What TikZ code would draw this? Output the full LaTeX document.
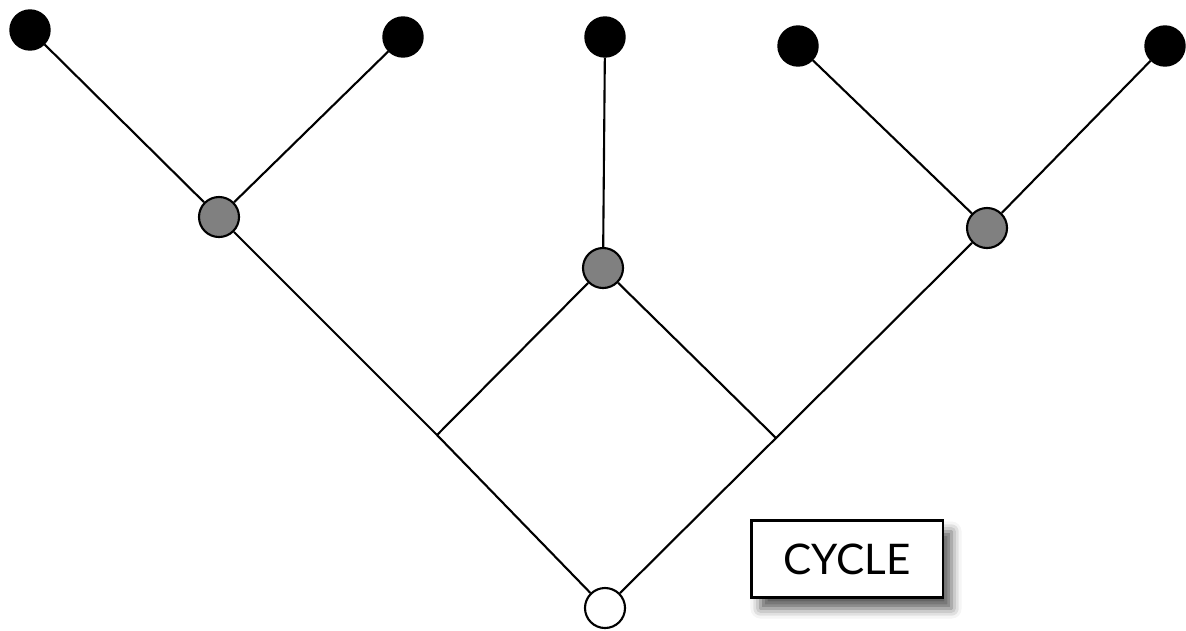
\documentclass[tikz,border=0pt]{standalone}
\usepackage{fontspec}
\setsansfont{Lato}
\usetikzlibrary{shadows.blur}

\begin{document}
\begin{tikzpicture}[
    x=0.01cm, y=-0.01cm,
    every node/.style={font=\sffamily},
    leaf/.style={
        circle,
        draw,
        fill=black,
        minimum size=0.4cm,
        inner sep=0pt
    },
    inner/.style={
        circle,
        draw,
        line width=0.6pt,
        fill=gray,
        minimum size=0.4cm,
        inner sep=0pt
    },
    rootnode/.style={
        circle,
        draw,
        line width=0.6pt,
        fill=white,
        minimum size=0.4cm,
        inner sep=0pt
    },
    label/.style={
        draw,
        fill=white,
        line width=0.6pt,
        minimum width=1.91cm,
        minimum height=0.77cm,
        font=\sffamily\fontsize{12}{14}\selectfont,
        blur shadow={shadow xshift=0.09cm, shadow yshift=-0.11cm,
                     shadow blur radius=0.1cm, shadow opacity=65}
    },
    edge/.style={line width=0.6pt}
]
\useasboundingbox (0,0) rectangle (1186,630);

% leaves
\node[leaf] (l1) at (30,30) {};
\node[leaf] (l2) at (403,37) {};
\node[leaf] (l3) at (605,37) {};
\node[leaf] (l4) at (798,46) {};
\node[leaf] (l5) at (1165,46) {};

% internal nodes
\node[inner] (a) at (219,217) {};
\node[inner] (b) at (603,268) {};
\node[inner] (c) at (987,228) {};

\node[rootnode] (r) at (605,608) {};

\coordinate (jl) at (437,435);
\coordinate (jr) at (776,438);

\draw[edge] (l1) -- (a);
\draw[edge] (l2) -- (a);
\draw[edge] (l3) -- (b);
\draw[edge] (l4) -- (c);
\draw[edge] (l5) -- (c);

\draw[edge] (a) -- (jl) -- (r);
\draw[edge] (c) -- (jr) -- (r);
\draw[edge] (b) -- (jl);
\draw[edge] (b) -- (jr);

\node[label] (cycle) at (847,559) {CYCLE};

\end{tikzpicture}
\end{document}
